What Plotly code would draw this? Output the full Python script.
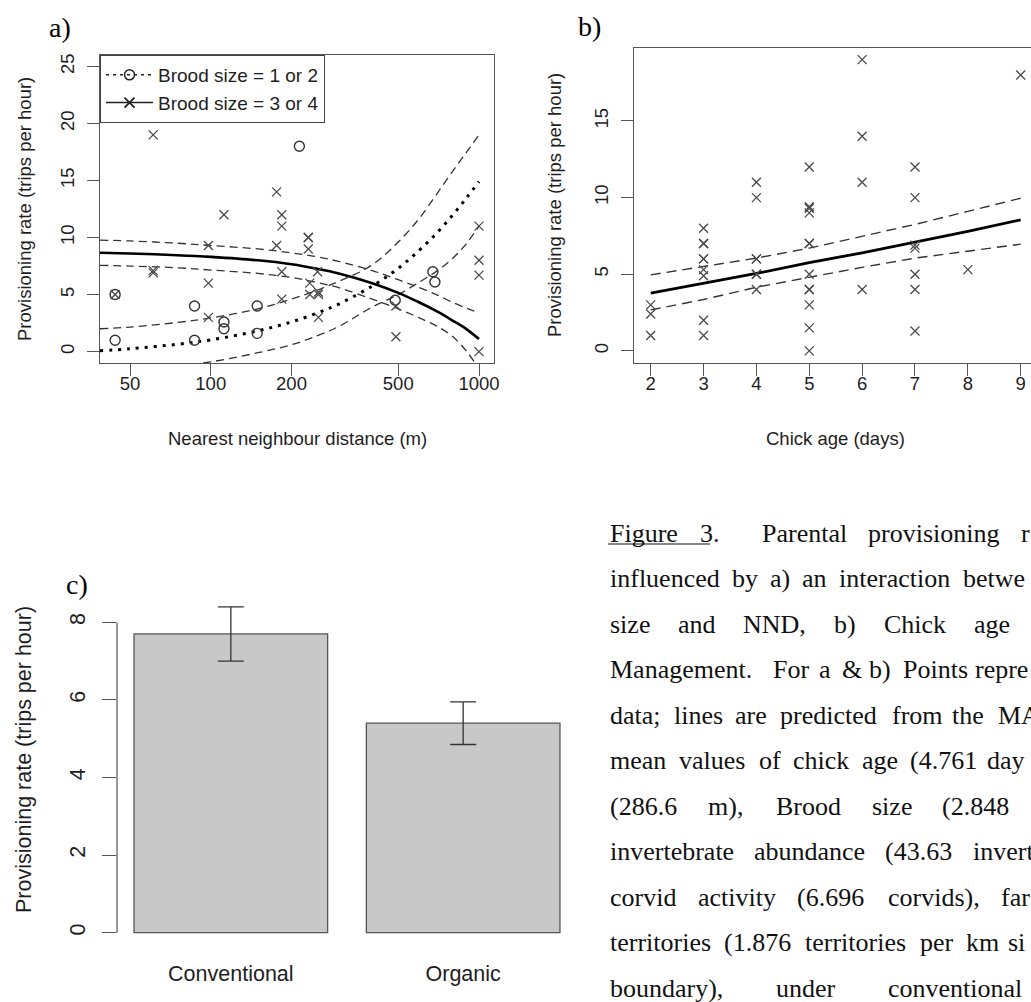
import plotly.graph_objects as go

W, H = 1031, 1002
def px(x):
    return x / W
def py(y):
    return 1 - y / H

# ---------------- Panel a data ----------------
nnd_small = [44, 44, 87, 87, 112, 112, 149, 149, 214, 487, 673, 685]
rate_small = [5.0, 1.0, 4.0, 1.0, 2.6, 2.0, 4.0, 1.6, 18.0, 4.5, 7.0, 6.1]

nnd_large = [44, 61, 61, 61, 98, 98, 98, 112, 176, 176, 184, 184, 184, 184,
             231, 231, 231, 234, 234, 252, 252, 252, 250, 490, 490,
             1000, 1000, 1000, 1000]
rate_large = [5.0, 19.0, 7.1, 6.9, 9.3, 6.0, 3.0, 12.0, 14.0, 9.3, 12.0, 11.0, 7.0, 4.6,
              10.0, 10.0, 9.0, 6.0, 5.0, 5.2, 5.0, 3.0, 7.0, 4.0, 1.3,
              11.0, 8.0, 6.7, 0.0]

nnd_curve = [38.6, 50, 75, 100, 150, 200, 250, 300, 400, 500, 600, 700, 800, 900, 1000]
fit_small = [0.07, 0.25, 0.64, 1.03, 1.82, 2.6, 3.39, 4.17, 5.75, 7.3, 8.9, 10.45, 12.0, 13.5, 14.9]
upper_small = [2.0, 2.15, 2.55, 2.95, 3.75, 4.6, 5.4, 6.15, 7.6, 9.6, 11.7, 13.9, 15.85, 17.5, 19.0]
lower_small = [-1.86, -1.65, -1.25, -0.9, -0.1, 0.6, 1.4, 2.2, 3.9, 5.0, 6.1, 7.1, 8.2, 9.5, 11.0]
fit_large = [8.67, 8.6, 8.45, 8.3, 8.0, 7.65, 7.25, 6.85, 6.0, 5.15, 4.3, 3.5, 2.7, 1.95, 1.1]
upper_large = [9.77, 9.7, 9.5, 9.3, 9.0, 8.65, 8.3, 7.9, 7.1, 6.3, 5.6, 4.95, 4.3, 3.8, 3.4]
lower_large = [7.56, 7.5, 7.35, 7.15, 6.85, 6.5, 6.05, 5.6, 4.6, 3.75, 2.95, 2.2, 1.3, 0.0, -1.5]

nnd_ticks = [50, 100, 200, 500, 1000]
rate_ticks_a = [0, 5, 10, 15, 20, 25]

# ---------------- Panel b data ----------------
age_pts = [2, 2, 2,
           3, 3, 3, 3, 3, 3, 3, 3, 3,
           4, 4, 4, 4, 4, 4, 4,
           5, 5, 5, 5, 5, 5, 5, 5, 5, 5, 5, 5,
           6, 6, 6, 6,
           7, 7, 7, 7, 7, 7, 7,
           8,
           9]
rate_pts = [3.0, 2.4, 1.0,
            8.0, 7.0, 7.0, 6.0, 6.0, 5.3, 4.9, 2.0, 1.0,
            11.0, 10.0, 6.0, 6.0, 5.0, 5.0, 4.0,
            12.0, 9.4, 9.3, 9.0, 7.0, 7.0, 5.0, 4.0, 4.0, 3.0, 1.5, 0.0,
            19.0, 14.0, 11.0, 4.0,
            12.0, 10.0, 6.9, 6.7, 5.0, 4.0, 1.3,
            5.3,
            18.0]
age_line = [2, 3, 4, 5, 6, 7, 8, 9]
fit_age = [3.76, 4.4, 5.05, 5.75, 6.4, 7.1, 7.8, 8.55]
upper_age = [4.96, 5.5, 6.05, 6.7, 7.5, 8.25, 9.1, 9.96]
lower_age = [2.67, 3.35, 4.15, 4.8, 5.45, 6.05, 6.5, 6.96]
age_ticks = [2, 3, 4, 5, 6, 7, 8, 9]
rate_ticks_b = [0, 5, 10, 15]

# ---------------- Panel c data ----------------
management = ["Conventional", "Organic"]
mean_rate = [7.70, 5.40]
se_rate = [0.70, 0.55]
rate_ticks_c = [0, 2, 4, 6, 8]

# ---------------- Caption (visible part, justified word by word) ----------------
caption_lines = [
    (533, [("Figure", 608), ("3.", 698), ("Parental", 760), ("provisioning", 866), ("r", 1019)]),
    (578, [("influenced", 608), ("by", 730), ("a)", 768), ("an", 800), ("interaction", 837), ("betwe", 961)]),
    (624, [("size", 608), ("and", 676), ("NND,", 741), ("b)", 832), ("Chick", 882), ("age", 972)]),
    (669, [("Management.", 608), ("For", 771), ("a", 817), ("&", 840), ("b)", 867), ("Points", 901), ("repre", 973)]),
    (715, [("data;", 608), ("lines", 672), ("are", 733), ("predicted", 778), ("from", 890), ("the", 950), ("MA", 996)]),
    (760, [("mean", 608), ("values", 677), ("of", 757), ("chick", 791), ("age", 860), ("(4.761", 908), ("day", 985)]),
    (806, [("(286.6", 608), ("m),", 706), ("Brood", 774), ("size", 870), ("(2.848", 940)]),
    (851, [("invertebrate", 608), ("abundance", 752), ("(43.63", 883), ("invert", 971)]),
    (897, [("corvid", 608), ("activity", 696), ("(6.696", 795), ("corvids),", 886), ("far", 999)]),
    (942, [("territories", 608), ("(1.876", 722), ("territories", 803), ("per", 918), ("km", 964), ("si", 1006)]),
    (988, [("boundary),", 608), ("under", 774), ("conventional", 886)]),
]

# ---------------- Styles ----------------
LINE = "#555555"
TXT = "#1e1e1e"
PT = "#4a4a4a"
SANS = "Liberation Sans, Arial, sans-serif"
SERIF = "Liberation Serif, Times New Roman, serif"
FS_AB = 18.5
FS_C = 21.5
DASH_A = "8px,5px"
DASH_B = "10px,6px"

fig = go.Figure()

# Panel a curves
for yv, style in [
    (upper_small, dict(color="#333", width=1.3, dash=DASH_A)),
    (lower_small, dict(color="#333", width=1.3, dash=DASH_A)),
    (upper_large, dict(color="#333", width=1.3, dash=DASH_A)),
    (lower_large, dict(color="#333", width=1.3, dash=DASH_A)),
    (fit_small, dict(color="#000", width=3, dash="3px,6px")),
    (fit_large, dict(color="#000", width=2.6)),
]:
    fig.add_trace(go.Scatter(x=nnd_curve, y=yv, mode="lines", line=dict(shape="spline", **style),
                             xaxis="x", yaxis="y", showlegend=False, hoverinfo="skip"))

fig.add_trace(go.Scatter(x=nnd_small, y=rate_small, mode="markers", xaxis="x", yaxis="y",
                         marker=dict(symbol="circle-open", size=10, color="#333", line=dict(width=1.4)),
                         showlegend=False))
fig.add_trace(go.Scatter(x=nnd_large, y=rate_large, mode="markers", xaxis="x", yaxis="y",
                         marker=dict(symbol="x-thin-open", size=9, color=PT, line=dict(width=1.3)),
                         showlegend=False))

# legend entries
fig.add_trace(go.Scatter(x=[None], y=[None], mode="lines+markers", name="Brood size = 1 or 2",
                         xaxis="x", yaxis="y",
                         line=dict(color="#222", width=1.5, dash="3px,4px"),
                         marker=dict(symbol="circle-open", size=10, color="#222", line=dict(width=1.5))))
fig.add_trace(go.Scatter(x=[None], y=[None], mode="lines+markers", name="Brood size = 3 or 4",
                         xaxis="x", yaxis="y",
                         line=dict(color="#222", width=1.5),
                         marker=dict(symbol="x-thin-open", size=10, color="#222", line=dict(width=1.8))))

# Panel b
for yv, style in [
    (upper_age, dict(color="#333", width=1.4, dash=DASH_B)),
    (lower_age, dict(color="#333", width=1.4, dash=DASH_B)),
    (fit_age, dict(color="#000", width=2.8)),
]:
    fig.add_trace(go.Scatter(x=age_line, y=yv, mode="lines", line=style, xaxis="x2", yaxis="y2",
                             showlegend=False, hoverinfo="skip"))
fig.add_trace(go.Scatter(x=age_pts, y=rate_pts, mode="markers", xaxis="x2", yaxis="y2",
                         marker=dict(symbol="x-thin-open", size=9, color=PT, line=dict(width=1.3)),
                         showlegend=False))

# Panel c
fig.add_trace(go.Bar(x=management, y=mean_rate, xaxis="x3", yaxis="y3", width=1 / 1.2,
                     marker=dict(color="#c8c8c8", line=dict(color="#555", width=1.3)),
                     error_y=dict(type="data", array=se_rate, color="#333", thickness=1.3, width=13),
                     showlegend=False))

common = dict(showgrid=False, zeroline=False, automargin=False, ticks="outside",
              tickcolor=LINE, tickwidth=1.1, linecolor=LINE, linewidth=1.2)

fig.update_layout(
    width=W, height=H, margin=dict(l=0, r=0, t=0, b=0),
    paper_bgcolor="white", plot_bgcolor="white",
    font=dict(family=SANS, color=TXT),
    showlegend=True,
    legend=dict(x=px(100), y=py(55), xanchor="left", yanchor="top", bgcolor="white",
                bordercolor="#444", borderwidth=1, font=dict(size=19, family=SANS, color=TXT),
                itemwidth=47, tracegroupgap=0),
    xaxis=dict(type="log", domain=[px(100), px(494)], range=[1.58713, 3.05592], anchor="y",
               tickvals=nnd_ticks, ticktext=[str(v) for v in nnd_ticks], ticklen=12,
               showline=True, mirror=True, tickfont=dict(size=FS_AB), ticklabelstandoff=-8, **common),
    yaxis=dict(domain=[py(363), py(55)], range=[-1, 26], anchor="x",
               tickvals=rate_ticks_a, tickangle=-90, ticklen=12,
               showline=True, mirror=True, tickfont=dict(size=FS_AB), ticklabelstandoff=6, **common),
    xaxis2=dict(domain=[px(634), 1.0], range=[1.684, 9.195], anchor="y2",
                tickvals=age_ticks, ticklen=12, showline=True, mirror=True,
                tickfont=dict(size=FS_AB), ticklabelstandoff=-8, **common),
    yaxis2=dict(domain=[py(362.5), py(48)], range=[-0.76, 19.76], anchor="x2",
                tickvals=rate_ticks_b, tickangle=-90, ticklen=12, showline=True, mirror=False,
                tickfont=dict(size=FS_AB), ticklabelstandoff=6, **common),
    xaxis3=dict(domain=[px(117), px(577)], range=[-0.49, 1.49], anchor="y3",
                showgrid=False, zeroline=False, automargin=False, showline=False, ticks="",
                tickfont=dict(size=FS_C), ticklabelstandoff=18),
    yaxis3=dict(domain=[py(940), py(600)], range=[-0.19, 8.575], anchor="x3",
                tickvals=rate_ticks_c, tickangle=-90, ticklen=14, showline=False,
                tickfont=dict(size=FS_C), ticklabelstandoff=8,
                showgrid=False, zeroline=False, automargin=False, ticks="outside",
                tickcolor=LINE, tickwidth=1.1),
)

shapes = [
    dict(type="line", xref="x3 domain", yref="y3", x0=0, x1=0, y0=0, y1=8,
         line=dict(color=LINE, width=1.2)),
    dict(type="line", xref="paper", yref="paper", x0=px(608), x1=px(710), y0=py(544), y1=py(544),
         line=dict(color="#111", width=1.2)),
]

annotations = []
def ann(text, x, y, size, family=SANS, angle=0, xanchor="center", color=TXT):
    annotations.append(dict(text=text, x=px(x), y=py(y), xref="paper", yref="paper",
                            xanchor=xanchor, yanchor="middle", showarrow=False, textangle=angle,
                            font=dict(size=size, family=family, color=color)))

ann("Provisioning rate (trips per hour)", 25, 209, FS_AB, angle=-90)
ann("Nearest neighbour distance (m)", 297, 438, FS_AB)
ann("Provisioning rate (trips per hour)", 555, 205, FS_AB, angle=-90)
ann("Chick age (days)", 835, 438, FS_AB)
ann("Provisioning rate (trips per hour)", 24, 760, FS_C, angle=-90)
ann("a)", 60, 28, 28, family=SERIF, color="#000")
ann("b)", 589, 26, 28, family=SERIF, color="#000")
ann("c)", 77, 584, 28, family=SERIF, color="#000")

for yc, words in caption_lines:
    for word, xl in words:
        ann(word, xl, yc, 26, family=SERIF, xanchor="left", color="#111")

fig.update_layout(shapes=shapes, annotations=annotations)

# The page is exactly the figure size: remove the default body margin and any scrollbars.
fig.write_html(
    "out.html",
    config={"displayModeBar": False},
    post_script="document.documentElement.style.overflow='hidden';"
                "document.body.style.overflow='hidden';document.body.style.margin='0';",
)
